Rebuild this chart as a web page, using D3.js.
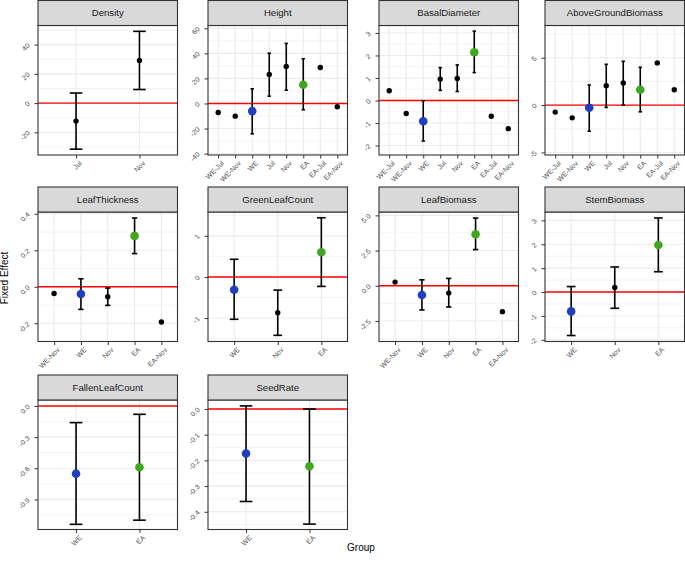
<!DOCTYPE html>
<html><head><meta charset="utf-8">
<script src="https://cdn.jsdelivr.net/npm/d3@7"></script>
<style>body{margin:0;background:#fff} svg{display:block} text{font-family:"Liberation Sans",Arial,Helvetica,sans-serif}</style>
</head><body><svg id="chart" width="685" height="565"></svg>
<script>
const panelNames = ["Density","Height","BasalDiameter","AboveGroundBiomass","LeafThickness","GreenLeafCount","LeafBiomass","StemBiomass","FallenLeafCount","SeedRate"];
const groups = [
  ["Jul","Nov"],
  ["WE-Jul","WE-Nov","WE","Jul","Nov","EA","EA-Jul","EA-Nov"],
  ["WE-Jul","WE-Nov","WE","Jul","Nov","EA","EA-Jul","EA-Nov"],
  ["WE-Jul","WE-Nov","WE","Jul","Nov","EA","EA-Jul","EA-Nov"],
  ["WE-Nov","WE","Nov","EA","EA-Nov"],
  ["WE","Nov","EA"],
  ["WE-Nov","WE","Nov","EA","EA-Nov"],
  ["WE","Nov","EA"],
  ["WE","EA"],
  ["WE","EA"]
];
const estimates = [
  [-12.3, 29.2],
  [-7.2, -10.1, -6.1, 23.1, 29.5, 14.9, 28.7, -2.6],
  [0.43, -0.58, -0.92, 0.95, 0.98, 2.14, -0.70, -1.25],
  [-0.74, -1.35, -0.29, 2.05, 2.33, 1.62, 4.45, 1.62],
  [-0.037, -0.040, -0.055, 0.279, -0.193],
  [-0.31, -0.87, 0.60],
  [0.26, -0.66, -0.52, 3.66, -1.84],
  [-0.81, 0.19, 1.97],
  [-0.652, -0.590],
  [-0.173, -0.223]
];
const lowers = [
  [-31.5, 9.3],
  [null, null, -24.2, 5.8, 10.6, -5.0, null, null],
  [null, null, -1.80, 0.45, 0.40, 1.24, null, null],
  [null, null, -2.76, -0.25, 0.00, -0.71, null, null],
  [null, -0.124, -0.102, 0.182, null],
  [-1.03, -1.42, -0.23],
  [null, -1.72, -1.51, 2.57, null],
  [-1.82, -0.68, 0.85],
  [-1.14, -1.10],
  [-0.360, -0.448]
];
const uppers = [
  [6.9, 49.1],
  [null, null, 11.7, 40.1, 47.9, 35.7, null, null],
  [null, null, -0.01, 1.46, 1.58, 3.08, null, null],
  [null, null, 2.12, 4.30, 4.62, 3.99, null, null],
  [null, 0.044, -0.007, 0.377, null],
  [0.43, -0.32, 1.44],
  [null, 0.42, 0.52, 4.81, null],
  [0.23, 1.05, 3.10],
  [-0.16, -0.08],
  [0.012, 0.000]
];
const yMin = [-35.5, -41.1, -2.42, -5.27, -0.30, -1.57, -3.96, -2.07, -1.19, -0.469];
const yMax = [53.1, 62.2, 3.33, 8.4, 0.41, 1.58, 5.24, 3.35, 0.058, 0.035];
const yTickLabels = [
  ["-20","0","20","40"],
  ["-40","-20","0","20","40","60"],
  ["-2","-1","0","1","2","3"],
  ["-5","0","5"],
  ["-0.2","0.0","0.2","0.4"],
  ["-1","0","1"],
  ["-2.5","0.0","2.5","5.0"],
  ["-2","-1","0","1","2","3"],
  ["-0.9","-0.6","-0.3","0.0"],
  ["-0.4","-0.3","-0.2","-0.1","0.0"]
];
const highlight = {"WE":"#1f3fbf","EA":"#3fa61f"};
const xTitle = "Group", yTitle = "Fixed Effect";

const svg = d3.select("#chart");
const colLeft = [38, 208, 379, 545], panelW = 139.5;
const rowTop = [0.5, 187, 375], stripH = 25, panelH = 129.5;

panelNames.forEach((name, i) => {
  const r = Math.floor(i / 4), c = i % 4;
  const x0 = colLeft[c], y0 = rowTop[r];
  const py0 = y0 + stripH, py1 = py0 + panelH;
  const x = d3.scalePoint().domain(groups[i]).range([x0, x0 + panelW]).padding(0.6);
  const y = d3.scaleLinear().domain([yMin[i], yMax[i]]).range([py1, py0]);
  const g = svg.append("g");
  const ticks = yTickLabels[i].map(Number);
  const step = ticks[1] - ticks[0];
  const minor = [];
  for (let k = -1; k < ticks.length; k++) {
    const v = (k < 0 ? ticks[0] - step / 2 : ticks[k] + step / 2);
    if (v >= yMin[i] && v <= yMax[i]) minor.push(v);
  }
  g.append("rect").attr("x", x0).attr("y", py0).attr("width", panelW).attr("height", panelH).attr("fill", "#fff");
  g.selectAll(".mn").data(minor).join("line")
    .attr("x1", x0).attr("x2", x0 + panelW).attr("y1", d => y(d)).attr("y2", d => y(d))
    .attr("stroke", "#EBEBEB").attr("stroke-width", 0.6);
  g.selectAll(".mj").data(ticks).join("line")
    .attr("x1", x0).attr("x2", x0 + panelW).attr("y1", d => y(d)).attr("y2", d => y(d))
    .attr("stroke", "#EBEBEB").attr("stroke-width", 1.1);
  g.selectAll(".vx").data(groups[i]).join("line")
    .attr("x1", d => x(d)).attr("x2", d => x(d)).attr("y1", py0).attr("y2", py1)
    .attr("stroke", "#EBEBEB").attr("stroke-width", 1.1);
  g.append("line").attr("x1", x0).attr("x2", x0 + panelW).attr("y1", y(0)).attr("y2", y(0))
    .attr("stroke", "#FF0000").attr("stroke-width", 1.4);
  const cap = x.step() * 0.1;
  groups[i].forEach((grp, j) => {
    const lo = lowers[i][j], hi = uppers[i][j];
    if (lo !== null && hi !== null) {
      const cx = x(grp);
      g.append("line").attr("x1", cx).attr("x2", cx).attr("y1", y(lo)).attr("y2", y(hi)).attr("stroke", "#000").attr("stroke-width", 1.6);
      [lo, hi].forEach(v => g.append("line").attr("x1", cx - cap).attr("x2", cx + cap).attr("y1", y(v)).attr("y2", y(v)).attr("stroke", "#000").attr("stroke-width", 1.6));
    }
  });
  g.selectAll(".pt").data(groups[i]).join("circle")
    .attr("cx", d => x(d)).attr("cy", (d, j) => y(estimates[i][j]))
    .attr("r", d => highlight[d] ? 4.3 : 2.7)
    .attr("fill", d => highlight[d] || "#000");
  g.append("rect").attr("x", x0).attr("y", py0).attr("width", panelW).attr("height", panelH)
    .attr("fill", "none").attr("stroke", "#333").attr("stroke-width", 1.1);
  // strip
  g.append("rect").attr("x", x0).attr("y", y0).attr("width", panelW).attr("height", stripH)
    .attr("fill", "#D9D9D9").attr("stroke", "#333").attr("stroke-width", 1.1);
  g.append("text").attr("x", x0 + panelW / 2).attr("y", y0 + stripH / 2).attr("dy", "0.35em")
    .attr("text-anchor", "middle").attr("font-size", "9.6px").attr("fill", "#1A1A1A").text(name);
  // axes
  const ya = g.append("g").attr("transform", `translate(${x0},0)`)
    .call(d3.axisLeft(y).tickValues(ticks).tickSize(3.5).tickFormat((d, j) => yTickLabels[i][j]));
  ya.select(".domain").remove();
  ya.selectAll("line").attr("stroke", "#333").attr("stroke-width", 1);
  ya.selectAll("text").attr("x", null).attr("dy", "0.35em")
    .attr("transform", "translate(-9.5,-1) rotate(-45)")
    .attr("text-anchor", "end").attr("font-size", "7px").attr("fill", "#4D4D4D").attr("font-family", null);
  const xa = g.append("g").attr("transform", `translate(0,${py1})`)
    .call(d3.axisBottom(x).tickSize(3.5));
  xa.select(".domain").remove();
  xa.selectAll("line").attr("stroke", "#333").attr("stroke-width", 1);
  xa.selectAll("text").attr("y", null).attr("dy", "0.35em")
    .attr("transform", "translate(4,7) rotate(-45)")
    .attr("text-anchor", "end").attr("font-size", "7px").attr("fill", "#4D4D4D").attr("font-family", null);
});

svg.append("text").attr("x", 361).attr("y", 551).attr("text-anchor", "middle")
  .attr("font-size", "10px").attr("fill", "#000").text(xTitle);
svg.append("text").attr("transform", "translate(8,278) rotate(-90)").attr("text-anchor", "middle")
  .attr("font-size", "10px").attr("fill", "#000").text(yTitle);
</script></body></html>
